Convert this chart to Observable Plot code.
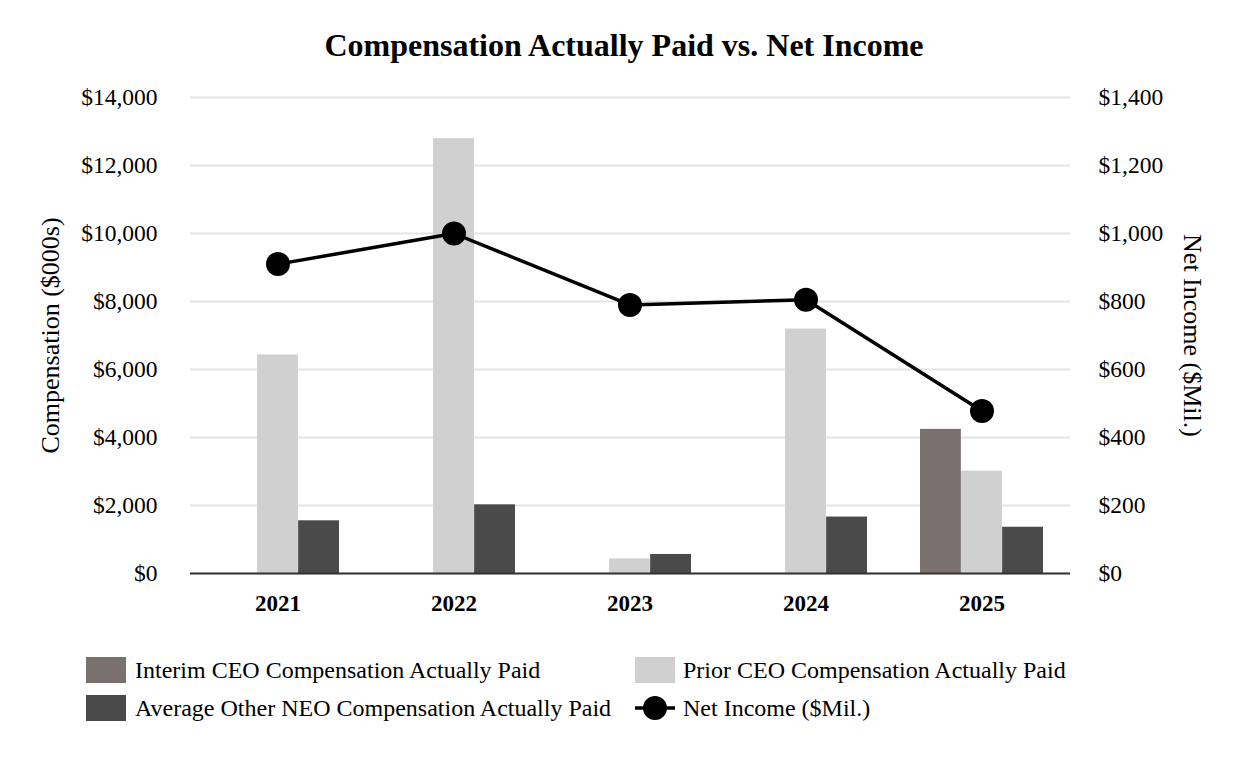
<!DOCTYPE html>
<html>
<head>
<meta charset="utf-8">
<script src="https://cdn.jsdelivr.net/npm/d3@7"></script>
<script src="https://cdn.jsdelivr.net/npm/@observablehq/plot@0.6"></script>
<style>
  html, body { margin: 0; padding: 0; background: #fff; }
  body { width: 1248px; height: 768px; position: relative; overflow: hidden; font-family: 'Liberation Serif', 'Times New Roman', serif; color: #000; }
  #title { height: 80px; box-sizing: border-box; padding-top: 10px; display: flex; align-items: center; justify-content: center; font-weight: bold; font-size: 32px; }
  #chart svg { display: block; }
  .lg { position: absolute; font-size: 24px; line-height: 26px; white-space: nowrap; }
  .sw { position: absolute; width: 40px; height: 26px; }
</style>
</head>
<body>
<div id="title">Compensation Actually Paid vs. Net Income</div>
<div id="chart"></div>
<div id="legend"></div>
<script>
const years = ["2021", "2022", "2023", "2024", "2025"];
const interimCEO = [null, null, null, null, 4240];
const priorCEO = [6430, 12790, 430, 7190, 3010];
const otherNEO = [1550, 2020, 560, 1660, 1360];
const netIncome = [910, 1000, 790, 805, 478];
const leftTicks = [0, 2000, 4000, 6000, 8000, 10000, 12000, 14000];
const rightTicks = [0, 200, 400, 600, 800, 1000, 1200, 1400];

const seriesNames = ["Interim CEO Compensation Actually Paid", "Prior CEO Compensation Actually Paid", "Average Other NEO Compensation Actually Paid"];
const colors = ["#7a7070", "#d0d0d0", "#4a4a4a"];
const netLabel = "Net Income ($Mil.)";

const ratio = 14000 / 1400;
const barRows = (vals) => years.map((y, i) => ({year: y, value: vals[i]})).filter(d => d.value != null);
const lineRows = years.map((y, i) => ({year: y, value: netIncome[i] * ratio}));

const width = 1248, marginLeft = 190, marginRight = 178;
const pIn = 0.3, pOut = 0.15;
const step = (width - marginLeft - marginRight) / (years.length - pIn + 2 * pOut);
const bw = step * (1 - pIn);
const third = bw / 3;

const fmt = d3.format(",");

const chart = Plot.plot({
  width,
  height: 545,
  marginLeft,
  marginRight,
  marginTop: 17,
  marginBottom: 52,
  style: {fontFamily: "'Liberation Serif', 'Times New Roman', serif", fontSize: "23px", color: "#000", background: "#fff"},
  x: {domain: years, paddingInner: pIn, paddingOuter: pOut, label: null},
  y: {domain: [0, 14000], label: null},
  marks: [
    Plot.gridY(leftTicks, {stroke: "#e3e3e3", strokeOpacity: 1, strokeWidth: 2}),
    Plot.barY(barRows(interimCEO), {x: "year", y: "value", fill: colors[0], insetRight: 2 * third}),
    Plot.barY(barRows(priorCEO), {x: "year", y: "value", fill: colors[1], insetLeft: third, insetRight: third}),
    Plot.barY(barRows(otherNEO), {x: "year", y: "value", fill: colors[2], insetLeft: 2 * third}),
    Plot.ruleY([0], {stroke: "#333", strokeWidth: 2}),
    Plot.line(lineRows, {x: "year", y: "value", stroke: "#000", strokeWidth: 3.5}),
    Plot.dot(lineRows, {x: "year", y: "value", r: 12, fill: "#000", stroke: "none"}),
    Plot.axisX({tickSize: 0, tickPadding: 21, fontWeight: "bold", fontSize: 23, label: null}),
    Plot.axisY(leftTicks, {anchor: "left", tickSize: 0, tickPadding: 33, tickFormat: d => "$" + fmt(d), fontSize: 23.5, label: null}),
    Plot.axisY(rightTicks.map(d => d * ratio), {anchor: "right", tickSize: 0, tickPadding: 28, tickFormat: d => "$" + fmt(d / ratio), fontSize: 23.5, label: null}),
    Plot.text(["Compensation ($000s)"], {frameAnchor: "left", textAnchor: "middle", dx: -140, rotate: -90, fontSize: 26, fill: "#000"}),
    Plot.text([netLabel], {frameAnchor: "right", textAnchor: "middle", dx: 122, rotate: 90, fontSize: 26, fill: "#000"})
  ]
});
document.getElementById("chart").appendChild(chart);

// legend
const legend = document.getElementById("legend");
const items = [
  {type: "sw", color: colors[0], label: seriesNames[0], x: 86, y: 657, tx: 135},
  {type: "sw", color: colors[1], label: seriesNames[1], x: 635, y: 657, tx: 683},
  {type: "sw", color: colors[2], label: seriesNames[2], x: 86, y: 695, tx: 135},
  {type: "line", color: "#000", label: netLabel, x: 635, y: 695, tx: 683}
];
for (const it of items) {
  if (it.type === "sw") {
    const s = document.createElement("div");
    s.className = "sw";
    s.style.left = it.x + "px"; s.style.top = it.y + "px"; s.style.background = it.color;
    legend.appendChild(s);
  } else {
    const ns = "http://www.w3.org/2000/svg";
    const svg = document.createElementNS(ns, "svg");
    svg.setAttribute("width", 42); svg.setAttribute("height", 30);
    svg.style.position = "absolute"; svg.style.left = it.x + "px"; svg.style.top = (it.y - 2) + "px";
    const l = document.createElementNS(ns, "line");
    l.setAttribute("x1", 0); l.setAttribute("x2", 40); l.setAttribute("y1", 15); l.setAttribute("y2", 15);
    l.setAttribute("stroke", "#000"); l.setAttribute("stroke-width", 3.5);
    const c = document.createElementNS(ns, "circle");
    c.setAttribute("cx", 20); c.setAttribute("cy", 15); c.setAttribute("r", 12); c.setAttribute("fill", "#000");
    svg.appendChild(l); svg.appendChild(c);
    legend.appendChild(svg);
  }
  const t = document.createElement("div");
  t.className = "lg";
  t.textContent = it.label;
  t.style.left = it.tx + "px";
  t.style.top = it.y + "px";
  legend.appendChild(t);
}
</script>
</body>
</html>
